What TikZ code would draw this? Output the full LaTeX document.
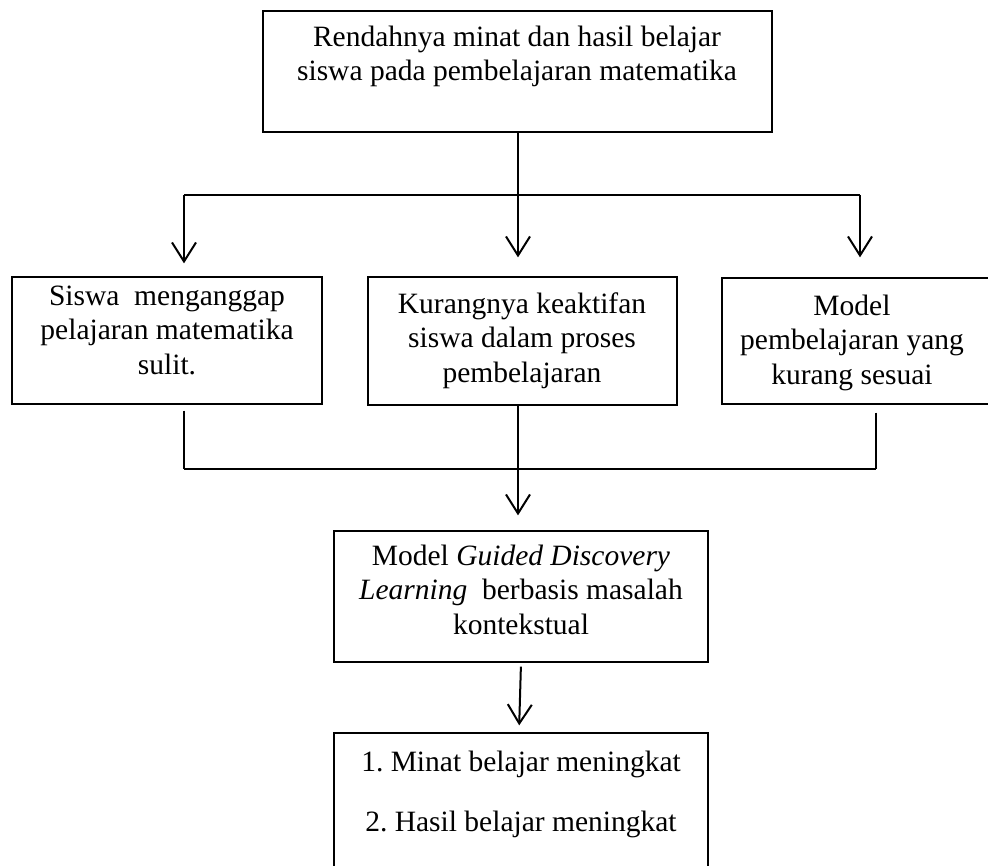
\documentclass[tikz,border=0pt]{standalone}
\usepackage{fontspec}
\setmainfont{Liberation Serif}
\usetikzlibrary{arrows.meta}
\tikzset{
  box/.style={draw, line width=1.3pt, inner sep=0pt, minimum width=#1},
  txt/.style={inner sep=0pt, align=center, anchor=north, font=\fontsize{29.5}{34.5}\selectfont},
  conn/.style={line width=2pt},
  arr/.style={line width=2pt, -{Straight Barb[length=19pt,width=24pt,line width=2pt]}}
}
\begin{document}
\begin{tikzpicture}[x=1pt,y=1pt]
\useasboundingbox (0,0) rectangle (988,-866);
% boxes
\node[box=509pt, minimum height=121pt] (b1) at (517.5,-71.5) {};
\node[box=310pt, minimum height=127pt] (b2) at (167,-340.5) {};
\node[box=309pt, minimum height=128pt] (b3) at (522.5,-341) {};
\node[box=280pt, minimum height=126pt] (b4) at (862,-341) {};
\node[box=374pt, minimum height=131pt] (b5) at (521,-596.5) {};
\node[box=374pt, minimum height=160pt] (b6) at (521,-813) {};
% texts
\node[txt] (t1) at (517,-21.85) {\strut Rendahnya minat dan hasil belajar\\siswa pada pembelajaran matematika};
\node[txt] (t2) at (167,-280.85) {\strut Siswa\ \ menganggap\\pelajaran matematika\\sulit.};
\node[txt] (t3) at (522,-288.85) {\strut Kurangnya keaktifan\\siswa dalam proses\\pembelajaran};
\node[txt] (t4) at (852,-290.85) {\strut Model\\pembelajaran yang\\kurang sesuai};
\node[txt] (t5) at (521,-540.85) {\strut Model \textit{Guided Discovery}\\\textit{Learning}\ \ berbasis masalah\\kontekstual};
\node[txt] (t6) at (521,-746.85) {\strut 1.\ Minat belajar meningkat\\[25.5pt]2.\ Hasil belajar meningkat};
% junction coordinates
\coordinate (hL) at (184,-195);
\coordinate (hM) at (518,-195);
\coordinate (hR) at (860,-195);
\coordinate (lL) at (184,-469);
\coordinate (lM) at (518,-469);
\coordinate (lR) at (876,-469);
% top connectors
\draw[conn] (hM |- b1.south) -- (hM);
\draw[conn] (hL) -- (hR);
\draw[arr, shorten >=13pt] (hL) -- (hL |- b2.north);
\draw[arr, shorten >=19pt] (hM) -- (hM |- b3.north);
\draw[arr, shorten >=20pt] (hR) -- (hR |- b4.north);
% bottom connectors
\draw[conn, shorten <=6pt] (lL |- b2.south) -- (lL);
\draw[conn, shorten <=8pt] (lR |- b4.south) -- (lR);
\draw[conn] (lL) -- (lR);
\draw[arr, shorten >=15pt] (lM |- b3.south) -- (lM |- b5.north);
% to results
\draw[arr, shorten <=4pt, shorten >=7pt] (b5.south) -- ([xshift=-2pt]b6.north);
\end{tikzpicture}
\end{document}
